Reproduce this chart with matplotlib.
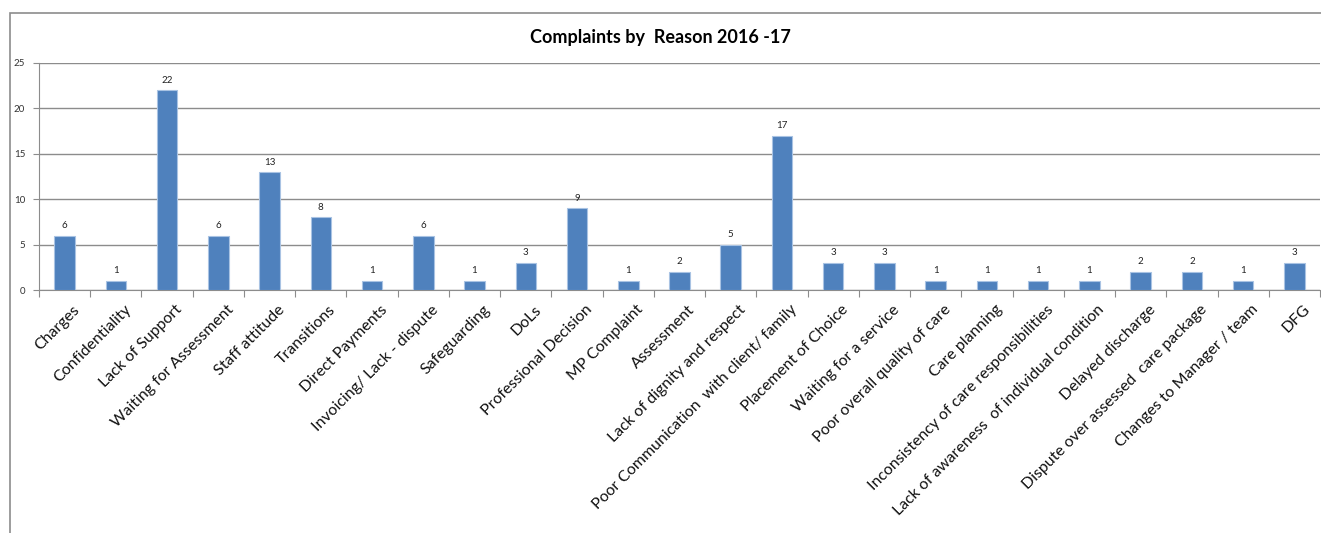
import matplotlib.pyplot as plt
import matplotlib.transforms as mtransforms
from matplotlib.patches import Rectangle

# complaint reasons and counts for the year
reasons = [
    "Charges", "Confidentiality", "Lack of Support", "Waiting for Assessment",
    "Staff attitude", "Transitions", "Direct Payments", "Invoicing/ Lack - dispute",
    "Safeguarding", "DoLs", "Professional Decision", "MP Complaint", "Assessment",
    "Lack of dignity and respect", "Poor Communication  with client/ family",
    "Placement of Choice", "Waiting for a service", "Poor overall quality of care",
    "Care planning", "Inconsistency of care responsibilities",
    "Lack of awareness  of individual condition", "Delayed discharge",
    "Dispute over assessed  care package", "Changes to Manager / team", "DFG",
]
counts = [6, 1, 22, 6, 13, 8, 1, 6, 1, 3, 9, 1, 2, 5, 17, 3, 3, 1, 1, 1, 1, 2, 2, 1, 3]
y_ticks = [0, 5, 10, 15, 20, 25]

plt.rcParams['font.family'] = ['Lato', 'DejaVu Sans']

W, H = 1321, 533
fig = plt.figure(figsize=(W / 100, H / 100), dpi=100)

# chart area frame
fig.patches.append(Rectangle((10 / W, -0.1), 1.2, (H - 13) / H + 0.1,
                             transform=fig.transFigure, fill=False,
                             edgecolor='#8c8c8c', linewidth=1.2))

ax = fig.add_axes([39 / W, 1 - 290 / H, (1320 - 39) / W, (290 - 63) / H])
x = list(range(len(reasons)))
ax.bar(x, counts, width=0.4, color='#4F81BD', edgecolor='#a9c3e3',
       linewidth=0.8, zorder=3)
for xi, c in zip(x, counts):
    ax.text(xi, c + 0.6, str(c), ha='center', va='bottom', fontsize=7, color='#222222')

ax.set_xlim(-0.5, len(reasons) - 0.5)
ax.set_ylim(0, 25)
ax.set_yticks(y_ticks)
ax.tick_params(axis='y', labelsize=7, length=4, color='#8c8c8c', labelcolor='#333333', pad=6)
ax.yaxis.grid(True, color='#8c8c8c', linewidth=1, zorder=0)

# category ticks sit on the boundaries between bars
ax.set_xticks([i - 0.5 for i in range(len(reasons) + 1)], minor=False)
ax.set_xticklabels([])
ax.tick_params(axis='x', which='major', length=5, color='#8c8c8c')
ax.set_xticks(x, minor=True)
ax.set_xticklabels(reasons, minor=True, rotation=45, ha='right', va='top',
                   rotation_mode='anchor', fontsize=11.4, color='#111111')
ax.tick_params(axis='x', which='minor', length=0, pad=9)

# nudge the slanted labels so they finish just right of the bar centre
for lbl in ax.get_xticklabels(minor=True):
    lbl.set_transform(lbl.get_transform() + mtransforms.ScaledTranslation(0.08, 0, fig.dpi_scale_trans))

for side in ['top', 'right']:
    ax.spines[side].set_visible(False)
for side in ['left', 'bottom']:
    ax.spines[side].set_color('#8c8c8c')

fig.text(0.5, 1 - 38 / H, "Complaints by  Reason 2016 -17", ha='center', va='center',
         fontsize=13, fontweight='bold')

fig.savefig('out.png', dpi=100)
